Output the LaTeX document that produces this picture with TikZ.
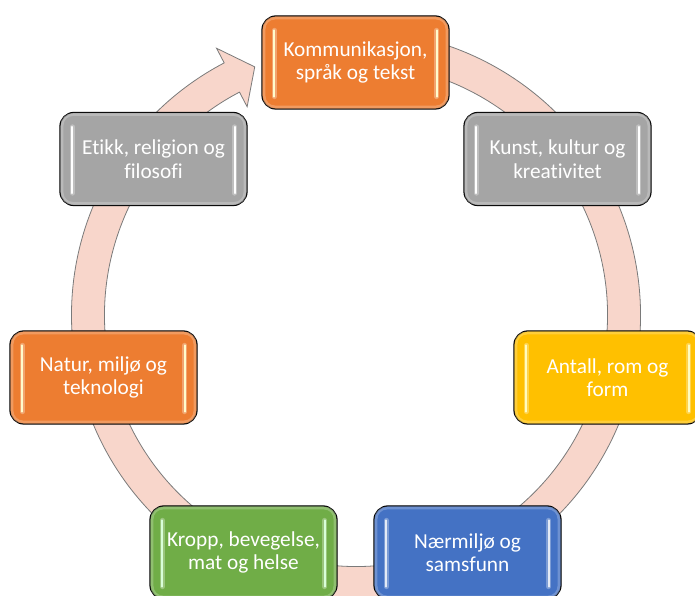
\documentclass[tikz,border=0pt]{standalone}
\usepackage{fontspec}
\setmainfont{Carlito}[Ligatures={NoCommon}]
\definecolor{corange}{HTML}{ED7D31}
\definecolor{cgrey}{HTML}{A5A5A5}
\definecolor{cyellow}{HTML}{FFC000}
\definecolor{cblue}{HTML}{4472C4}
\definecolor{cgreen}{HTML}{70AD47}
\definecolor{ringfill}{HTML}{F8D6CB}
\definecolor{ringline}{HTML}{7A7A7A}
\tikzset{
  gbox/.style={rectangle, rounded corners=14pt, minimum width=187pt, minimum height=93pt,
    draw=black, line width=1.3pt, text=white, align=center, inner sep=0pt,
    font=\fontsize{21.3}{23.5}\selectfont},
  ringstyle/.style={fill=ringfill, draw=ringline, line width=0.8pt},
  glowline/.style={line width=5pt, line cap=round, opacity=0.55},
  coreline/.style={line width=2.2pt, line cap=round},
}
\newcommand\gbox[6]{%
  \node[gbox, fill=#4] (#1) at (#2,#3) {#6};
  \draw[#4!55!white, line width=3pt, opacity=0.5, rounded corners=11pt]
    ([shift={(2.6pt,2.6pt)}]#1.south west) rectangle ([shift={(-2.6pt,-2.6pt)}]#1.north east);
  \draw[glowline, #4!45!white] ([shift={(13pt,-15pt)}]#1.north west) -- ([shift={(13pt,13pt)}]#1.south west);
  \draw[glowline, #4!45!white] ([shift={(-13pt,-15pt)}]#1.north east) -- ([shift={(-13pt,13pt)}]#1.south east);
  \draw[coreline, #5] ([shift={(13pt,-15pt)}]#1.north west) -- ([shift={(13pt,13pt)}]#1.south west);
  \draw[coreline, #5] ([shift={(-13pt,-15pt)}]#1.north east) -- ([shift={(-13pt,13pt)}]#1.south east);
}
\begin{document}
\begin{tikzpicture}[x=1pt,y=1pt]
\useasboundingbox (0,0) rectangle (695,596);
\coordinate (C) at (356,281);
% ring with arrow head
\path[ringstyle]
  ([shift={(100:284.5pt)}]C) arc[start angle=100, end angle=-242.4, radius=284.5pt]
  -- ([shift={(-242.4:301pt)}]C)
  -- ([shift={(-247.8:268pt)}]C)
  -- ([shift={(-242.4:235pt)}]C)
  -- ([shift={(-242.4:251.5pt)}]C)
  arc[start angle=-242.4, end angle=100, radius=251.5pt] -- cycle;
% boxes
\gbox{kom}{355.5}{533.5}{corange}{white!80!yellow}{Kommunikasjon,\\ språk og tekst}
\gbox{kunst}{557.5}{437}{cgrey}{white}{Kunst, kultur og\\ kreativitet}
\gbox{antall}{607.5}{218.5}{cyellow}{white!75!yellow}{Antall, rom og\\ form}
\gbox{naer}{467.5}{43.5}{cblue}{white!85!cblue}{Nærmiljø og\\ samsfunn}
\gbox{kropp}{243.5}{43.5}{cgreen}{white!85!green}{Kropp, bevegelse,\\ mat og helse}
\gbox{natur}{103.5}{218.5}{corange}{white!80!yellow}{Natur, miljø og\\ teknologi}
\gbox{etikk}{153.5}{437}{cgrey}{white}{Etikk, religion og\\ filosofi}
\end{tikzpicture}
\end{document}
